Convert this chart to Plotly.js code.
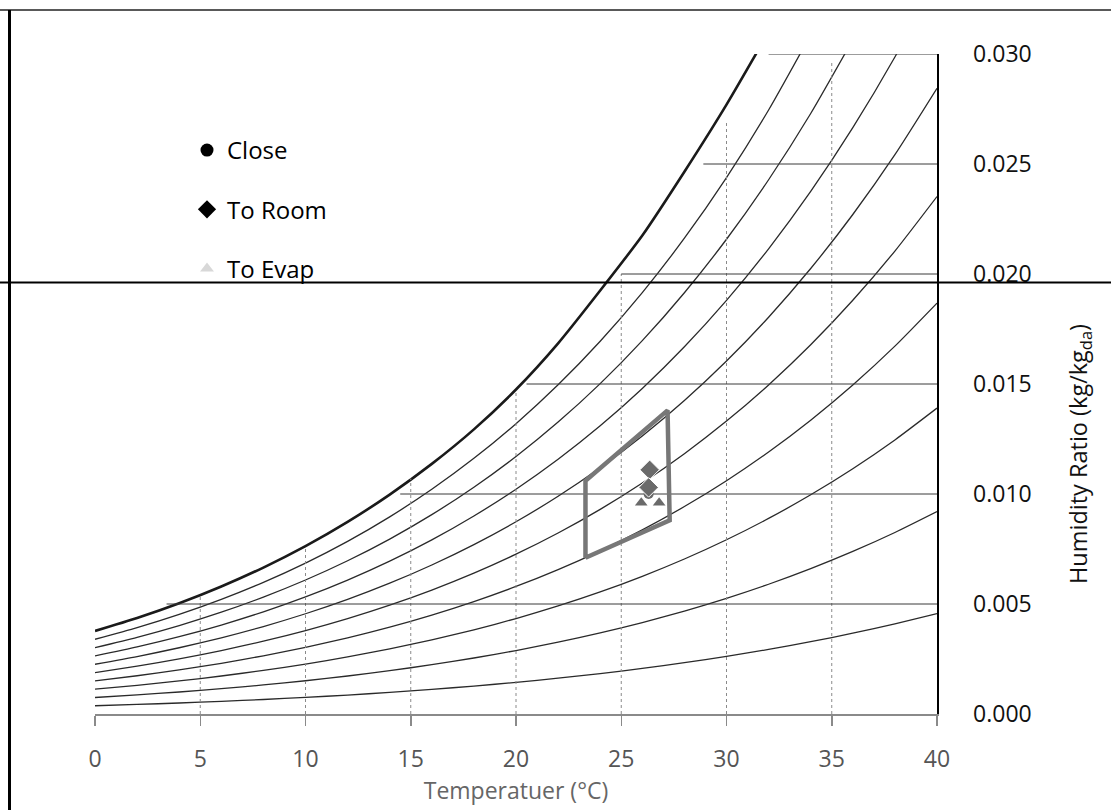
<!DOCTYPE html>
<html>
<head>
<meta charset="utf-8">
<script src="https://cdn.plot.ly/plotly-3.0.1.min.js"></script>
<style>html,body{margin:0;padding:0;background:#fff;}#chart{width:1111px;height:810px;}</style>
</head>
<body>
<div id="chart"></div>
<script>
// Dry-bulb temperatures (°C) at which the relative-humidity curves were read
var temps = [0,2,4,6,8,10,12,14,16,18,20,22,24,26,28,30,32,34,36,38,40];

// Humidity ratio (kg/kg_da)
var rh100 = [0.003775,0.004364,0.005034,0.005795,0.006657,0.007631,0.008732,0.009973,0.011368,0.012938,0.014750,0.016850,0.019250,0.021750,0.024650,0.027700,0.031000];
var rh90  = [0.003396,0.003925,0.004527,0.005211,0.005985,0.006860,0.007847,0.008961,0.010213,0.011620,0.013198,0.014966,0.016944,0.019156,0.021626,0.024382,0.027454,0.030878];
var rh80  = [0.003017,0.003487,0.004021,0.004627,0.005314,0.006090,0.006966,0.007952,0.009062,0.010308,0.011704,0.013268,0.015016,0.016970,0.019149,0.021579,0.024284,0.027296,0.030647];
var rh70  = [0.002638,0.003049,0.003515,0.004045,0.004645,0.005322,0.006087,0.006947,0.007915,0.009001,0.010217,0.011578,0.013099,0.014798,0.016691,0.018800,0.021146,0.023754,0.026651,0.029864,0.033437];
var rh60  = [0.002260,0.002611,0.003011,0.003464,0.003977,0.004557,0.005210,0.005945,0.006772,0.007699,0.008737,0.009898,0.011194,0.012641,0.014252,0.016045,0.018037,0.020250,0.022705,0.025424,0.028442];
var rh50  = [0.001882,0.002175,0.002507,0.002884,0.003311,0.003792,0.004335,0.004947,0.005633,0.006402,0.007264,0.008226,0.009301,0.010499,0.011832,0.013313,0.014959,0.016784,0.018807,0.021043,0.023522];
var rh40  = [0.001505,0.001738,0.002004,0.002305,0.002646,0.003030,0.003463,0.003951,0.004498,0.005111,0.005797,0.006564,0.007418,0.008371,0.009429,0.010605,0.011910,0.013355,0.014955,0.016721,0.018677];
var rh30  = [0.001128,0.001303,0.001502,0.001727,0.001982,0.002270,0.002594,0.002959,0.003367,0.003826,0.004338,0.004910,0.005547,0.006257,0.007045,0.007920,0.008890,0.009963,0.011149,0.012457,0.013903];
var rh20  = [0.000751,0.000868,0.001000,0.001150,0.001320,0.001512,0.001727,0.001969,0.002241,0.002545,0.002885,0.003265,0.003687,0.004157,0.004679,0.005258,0.005898,0.006607,0.007389,0.008250,0.009200];
var rh10  = [0.000376,0.000434,0.000500,0.000575,0.000659,0.000755,0.000862,0.000983,0.001118,0.001270,0.001439,0.001628,0.001838,0.002072,0.002331,0.002618,0.002935,0.003286,0.003672,0.004098,0.004566];

// Grid lines bounded by the saturation curve
var vGridT   = [5,10,15,20,25,30,35];
var vGridTop = [0.0054,0.0076,0.0107,0.0147,0.0200,0.0269,0.0297];
var hGridW     = [0.005,0.010,0.015,0.020,0.025,0.030];
var hGridStart = [3.4,14.5,20.5,25.0,28.9,32.0];

// Comfort zone outline
var zoneT = [23.3,23.3,27.2,27.3,23.3];
var zoneW = [0.0071,0.0106,0.0138,0.0088,0.0071];

// Measured states
var closeT = [26.3],        closeW = [0.0100];
var roomT  = [26.35,26.3],  roomW  = [0.0111,0.0103];
var evapT  = [25.95,26.8],  evapW  = [0.0096,0.0096];

// Tick labels
var xTicks = [0,5,10,15,20,25,30,35,40];
var yTicks = [0,0.005,0.010,0.015,0.020,0.025,0.030];
var yTickText = ['0.000','0.005','0.010','0.015','0.020','0.025','0.030'];

var traces = [];
var curves = [rh10,rh20,rh30,rh40,rh50,rh60,rh70,rh80,rh90,rh100];
curves.forEach(function(c, i){
  var sat = (i === curves.length - 1);
  traces.push({
    x: temps.slice(0, c.length), y: c, mode: 'lines', type: 'scatter',
    line: {color: sat ? '#1a1a1a' : '#2a2a2a', width: sat ? 2.6 : 1.3, shape: 'spline', smoothing: 0.6},
    showlegend: false, hoverinfo: 'skip'
  });
});

// vertical dotted grid
var vx = [], vy = [];
vGridT.forEach(function(t, i){ vx.push(t, t, null); vy.push(0, vGridTop[i], null); });
traces.push({x: vx, y: vy, mode: 'lines', type: 'scatter', line: {color: '#8a8a8a', width: 1, dash: 'dot'}, showlegend: false, hoverinfo: 'skip'});

// horizontal grid
var hx = [], hy = [];
hGridW.forEach(function(w, i){ hx.push(hGridStart[i], 40, null); hy.push(w, w, null); });
traces.push({x: hx, y: hy, mode: 'lines', type: 'scatter', line: {color: '#3a3a3a', width: 1}, showlegend: false, hoverinfo: 'skip'});

// zone
traces.push({x: zoneT, y: zoneW, mode: 'lines', type: 'scatter', line: {color: '#777777', width: 4.5}, showlegend: false, hoverinfo: 'skip'});

// data markers
traces.push({x: evapT, y: evapW, mode: 'markers', type: 'scatter', marker: {symbol: 'triangle-up', size: 11, color: '#6a6a6a'}, showlegend: false});
traces.push({x: closeT, y: closeW, mode: 'markers', type: 'scatter', marker: {symbol: 'circle', size: 10, color: '#6a6a6a'}, showlegend: false});
traces.push({x: roomT, y: roomW, mode: 'markers', type: 'scatter', marker: {symbol: 'diamond', size: 15, color: '#6a6a6a', line: {color: '#ffffff', width: 1}}, showlegend: false});

// legend entries
traces.push({x: [null], y: [null], name: 'Close', mode: 'markers', type: 'scatter', legendgroup: 'a', marker: {symbol: 'circle', size: 13, color: '#000'}});
traces.push({x: [null], y: [null], name: 'To Room', mode: 'markers', type: 'scatter', legendgroup: 'b', marker: {symbol: 'diamond', size: 14, color: '#000'}});
traces.push({x: [null], y: [null], name: 'To Evap', mode: 'markers', type: 'scatter', legendgroup: 'c', marker: {symbol: 'triangle-up', size: 12, color: '#d8d8d8'}});

function px2x(p){ return (p - 95) / 842; }
function px2y(p){ return (714 - p) / 660; }

var layout = {
  width: 1111, height: 810,
  margin: {l: 95, r: 174, t: 54, b: 96},
  paper_bgcolor: '#ffffff', plot_bgcolor: '#ffffff',
  font: {family: 'Open Sans, Noto Sans, sans-serif', color: '#111'},
  showlegend: true,
  legend: {x: px2x(187), y: px2y(128), xanchor: 'left', yanchor: 'top', bgcolor: 'rgba(0,0,0,0)',
           font: {size: 24, family: 'Open Sans, sans-serif', color: '#000'}, tracegroupgap: 25, traceorder: 'grouped'},
  xaxis: {
    range: [0, 40], tickmode: 'array', tickvals: xTicks, ticktext: xTicks.map(String),
    showgrid: false, zeroline: false, showline: true, linecolor: '#8a8a8a', linewidth: 1.5,
    ticks: 'outside', ticklen: 10, tickcolor: '#8a8a8a', tickwidth: 1.5,
    tickfont: {size: 23, color: '#555'}, ticklabelstandoff: 14,
    title: {text: 'Temperatuer (°C)', font: {size: 23, color: '#666'}, standoff: 6}
  },
  yaxis: {
    range: [0, 0.030], side: 'right', tickmode: 'array', tickvals: yTicks, ticktext: yTickText,
    showgrid: false, zeroline: false, showline: true, linecolor: '#000', linewidth: 1.5,
    ticks: '', tickfont: {size: 23, color: '#111'}, ticklabelstandoff: 30
  },
  annotations: [{
    xref: 'paper', yref: 'paper', x: px2x(1079), y: px2y(454), xanchor: 'center', yanchor: 'middle',
    text: 'Humidity Ratio (kg/kg<sub>da</sub>)', textangle: -90, showarrow: false,
    font: {size: 23.5, color: '#111'}
  }],
  shapes: [
    {type: 'line', xref: 'paper', yref: 'paper', x0: px2x(0), x1: px2x(1111), y0: px2y(10), y1: px2y(10), line: {color: '#222', width: 1.5}},
    {type: 'line', xref: 'paper', yref: 'paper', x0: px2x(0), x1: px2x(1111), y0: px2y(282.5), y1: px2y(282.5), line: {color: '#000', width: 2}},
    {type: 'line', xref: 'paper', yref: 'paper', x0: px2x(9.5), x1: px2x(9.5), y0: px2y(10), y1: px2y(810), line: {color: '#000', width: 3}}
  ]
};

Plotly.newPlot('chart', traces, layout, {displayModeBar: false, staticPlot: true});
</script>
</body>
</html>
